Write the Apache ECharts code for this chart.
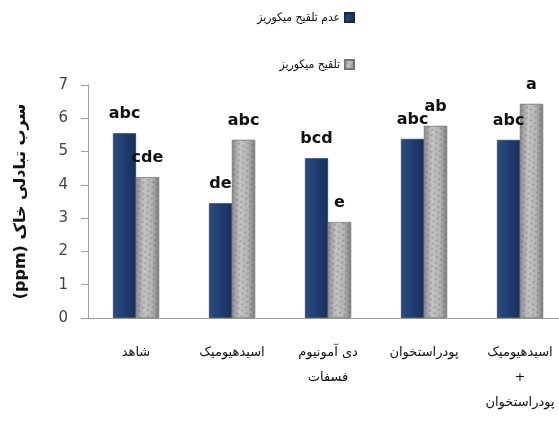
<!DOCTYPE html>
<html><head><meta charset="utf-8">
<script src="https://cdn.jsdelivr.net/npm/echarts@6/dist/echarts.min.js"></script>
<style>html,body{margin:0;padding:0;background:#fff}#c{width:559px;height:427px}</style>
</head><body><div id="c"></div>
<script>
var categories = ['شاهد', 'اسیدهیومیک', 'دی آمونیوم\nفسفات', 'پودراستخوان', 'اسیدهیومیک\n+\nپودراستخوان'];
var seriesNames = ['عدم تلقیح میکوریز', 'تلقیح میکوریز'];
var noMyco = [5.55, 3.45, 4.8, 5.38, 5.35];
var myco = [4.23, 5.35, 2.88, 5.77, 6.43];
var noMycoLetters = ['abc', 'de', 'bcd', 'abc', 'abc'];
var mycoLetters = ['cde', 'abc', 'e', 'ab', 'a'];
var yTicks = [0, 1, 2, 3, 4, 5, 6, 7];
var yName = '(ppm) سرب تبادلی خاک';

var chart = echarts.init(document.getElementById('c'), null, {renderer: 'canvas'});
function labels(arr) {
  return {
    show: true, position: 'top', distance: 11,
    fontFamily: 'DejaVu Sans', fontWeight: 'bold', fontSize: 16, color: '#111',
    formatter: function (p) { return arr[p.dataIndex]; }
  };
}
var blue = new echarts.graphic.LinearGradient(0, 0, 1, 0, [
  {offset: 0, color: '#2b4b80'}, {offset: 0.5, color: '#1f3d6f'}, {offset: 1, color: '#16305b'}]);
var gray = new echarts.graphic.LinearGradient(0, 0, 1, 0, [
  {offset: 0, color: '#8c8c8c'}, {offset: 0.35, color: '#c4c4c4'}, {offset: 0.7, color: '#b4b4b4'}, {offset: 1, color: '#7e7e7e'}]);
chart.setOption({
  animation: false,
  legend: {
    orient: 'vertical', align: 'right', right: 199, top: 4,
    itemWidth: 9, itemHeight: 9, itemGap: 30, padding: 5,
    textStyle: {fontFamily: 'DejaVu Sans Condensed, DejaVu Sans', fontSize: 12, color: '#111', lineHeight: 17},
    data: [{name: seriesNames[0], icon: 'rect'}, {name: seriesNames[1], icon: 'rect'}]
  },
  grid: {left: 88, width: 480, top: 85, bottom: 109, containLabel: false, outerBoundsMode: 'none'},
  xAxis: {
    type: 'category', data: categories,
    axisLine: {lineStyle: {color: '#a0a0a0'}},
    axisTick: {show: false},
    axisLabel: {fontFamily: 'DejaVu Sans', fontSize: 13, color: '#111', margin: 22, lineHeight: 25, interval: 0, hideOverlap: false}
  },
  yAxis: {
    type: 'value', min: 0, max: 7, interval: 1,
    name: yName, nameLocation: 'middle', nameRotate: 90, nameGap: 59,
    nameTextStyle: {fontFamily: 'DejaVu Sans', fontWeight: 'bold', fontSize: 16, color: '#111'},
    axisLine: {show: true, lineStyle: {color: '#a0a0a0'}},
    axisTick: {show: true, length: 7, lineStyle: {color: '#a0a0a0'}},
    splitLine: {show: false},
    axisLabel: {fontFamily: 'DejaVu Sans', fontSize: 15, color: '#444', margin: 20,
      formatter: function (v) { return yTicks.indexOf(v) >= 0 ? String(v) : ''; }}
  },
  series: [
    {name: seriesNames[0], type: 'bar', data: noMyco, barWidth: 23, barGap: '0%',
      itemStyle: {color: blue, borderColor: '#142a50', borderWidth: 0.5},
      label: labels(noMycoLetters)},
    {name: seriesNames[1], type: 'bar', data: myco, barWidth: 23,
      itemStyle: {color: gray, borderColor: '#777', borderWidth: 0.5,
        decal: {symbol: 'circle', symbolSize: 0.7, color: 'rgba(70,70,70,0.35)', dashArrayX: [[3, 2], [0, 2, 3, 0]], dashArrayY: [3, 2], rotation: 0.5}},
      label: labels(mycoLetters)}
  ]
});
</script></body></html>
